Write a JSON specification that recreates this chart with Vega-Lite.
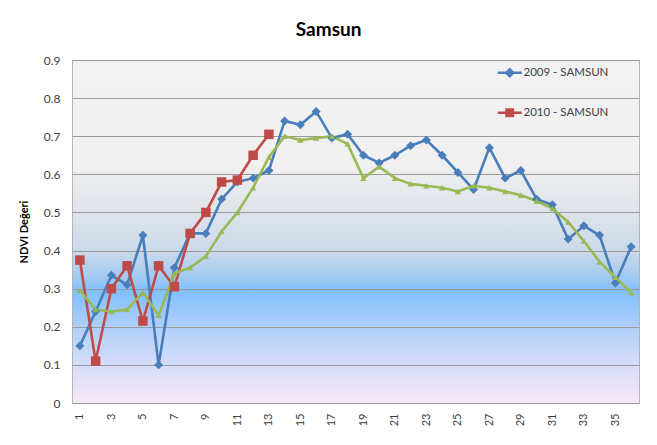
{
  "$schema": "https://vega.github.io/schema/vega-lite/v6.json",
  "width": 567,
  "height": 343,
  "autosize": {"type": "none"},
  "padding": {"left": 72, "top": 60, "right": 18, "bottom": 42},
  "background": "white",
  "title": {"text": "Samsun", "font": "Lato", "fontSize": 19, "fontWeight": "bold", "color": "#000000", "anchor": "middle", "frame": "bounds", "offset": 14},
  "data": {"values": [
    {"x":1,"s":"2009 - SAMSUN","v":0.15},{"x":2,"s":"2009 - SAMSUN","v":0.24},{"x":3,"s":"2009 - SAMSUN","v":0.335},{"x":4,"s":"2009 - SAMSUN","v":0.31},{"x":5,"s":"2009 - SAMSUN","v":0.44},{"x":6,"s":"2009 - SAMSUN","v":0.10},{"x":7,"s":"2009 - SAMSUN","v":0.355},{"x":8,"s":"2009 - SAMSUN","v":0.445},{"x":9,"s":"2009 - SAMSUN","v":0.445},{"x":10,"s":"2009 - SAMSUN","v":0.535},{"x":11,"s":"2009 - SAMSUN","v":0.58},{"x":12,"s":"2009 - SAMSUN","v":0.59},{"x":13,"s":"2009 - SAMSUN","v":0.61},{"x":14,"s":"2009 - SAMSUN","v":0.74},{"x":15,"s":"2009 - SAMSUN","v":0.73},{"x":16,"s":"2009 - SAMSUN","v":0.765},{"x":17,"s":"2009 - SAMSUN","v":0.695},{"x":18,"s":"2009 - SAMSUN","v":0.705},{"x":19,"s":"2009 - SAMSUN","v":0.65},{"x":20,"s":"2009 - SAMSUN","v":0.63},{"x":21,"s":"2009 - SAMSUN","v":0.65},{"x":22,"s":"2009 - SAMSUN","v":0.675},{"x":23,"s":"2009 - SAMSUN","v":0.69},{"x":24,"s":"2009 - SAMSUN","v":0.65},{"x":25,"s":"2009 - SAMSUN","v":0.605},{"x":26,"s":"2009 - SAMSUN","v":0.56},{"x":27,"s":"2009 - SAMSUN","v":0.67},{"x":28,"s":"2009 - SAMSUN","v":0.59},{"x":29,"s":"2009 - SAMSUN","v":0.61},{"x":30,"s":"2009 - SAMSUN","v":0.535},{"x":31,"s":"2009 - SAMSUN","v":0.52},{"x":32,"s":"2009 - SAMSUN","v":0.43},{"x":33,"s":"2009 - SAMSUN","v":0.465},{"x":34,"s":"2009 - SAMSUN","v":0.44},{"x":35,"s":"2009 - SAMSUN","v":0.315},{"x":36,"s":"2009 - SAMSUN","v":0.41},
    {"x":1,"s":"2010 - SAMSUN","v":0.375},{"x":2,"s":"2010 - SAMSUN","v":0.11},{"x":3,"s":"2010 - SAMSUN","v":0.30},{"x":4,"s":"2010 - SAMSUN","v":0.36},{"x":5,"s":"2010 - SAMSUN","v":0.215},{"x":6,"s":"2010 - SAMSUN","v":0.36},{"x":7,"s":"2010 - SAMSUN","v":0.305},{"x":8,"s":"2010 - SAMSUN","v":0.445},{"x":9,"s":"2010 - SAMSUN","v":0.50},{"x":10,"s":"2010 - SAMSUN","v":0.58},{"x":11,"s":"2010 - SAMSUN","v":0.585},{"x":12,"s":"2010 - SAMSUN","v":0.65},{"x":13,"s":"2010 - SAMSUN","v":0.705},
    {"x":1,"s":"Ortalama","v":0.295},{"x":2,"s":"Ortalama","v":0.245},{"x":3,"s":"Ortalama","v":0.24},{"x":4,"s":"Ortalama","v":0.245},{"x":5,"s":"Ortalama","v":0.29},{"x":6,"s":"Ortalama","v":0.23},{"x":7,"s":"Ortalama","v":0.34},{"x":8,"s":"Ortalama","v":0.355},{"x":9,"s":"Ortalama","v":0.385},{"x":10,"s":"Ortalama","v":0.45},{"x":11,"s":"Ortalama","v":0.50},{"x":12,"s":"Ortalama","v":0.565},{"x":13,"s":"Ortalama","v":0.645},{"x":14,"s":"Ortalama","v":0.70},{"x":15,"s":"Ortalama","v":0.69},{"x":16,"s":"Ortalama","v":0.695},{"x":17,"s":"Ortalama","v":0.70},{"x":18,"s":"Ortalama","v":0.68},{"x":19,"s":"Ortalama","v":0.59},{"x":20,"s":"Ortalama","v":0.62},{"x":21,"s":"Ortalama","v":0.59},{"x":22,"s":"Ortalama","v":0.575},{"x":23,"s":"Ortalama","v":0.57},{"x":24,"s":"Ortalama","v":0.565},{"x":25,"s":"Ortalama","v":0.555},{"x":26,"s":"Ortalama","v":0.57},{"x":27,"s":"Ortalama","v":0.565},{"x":28,"s":"Ortalama","v":0.555},{"x":29,"s":"Ortalama","v":0.545},{"x":30,"s":"Ortalama","v":0.53},{"x":31,"s":"Ortalama","v":0.51},{"x":32,"s":"Ortalama","v":0.475},{"x":33,"s":"Ortalama","v":0.425},{"x":34,"s":"Ortalama","v":0.37},{"x":35,"s":"Ortalama","v":0.33},{"x":36,"s":"Ortalama","v":0.29}
  ]},
  "encoding": {
    "x": {"field": "x", "type": "quantitative", "scale": {"domain": [0.5, 36.5], "nice": false, "zero": false},
      "axis": {"title": null, "values": [1,3,5,7,9,11,13,15,17,19,21,23,25,27,29,31,33,35], "labelAngle": -90, "labelAlign": "right", "labelBaseline": "middle", "grid": false, "ticks": false, "domain": false, "labelPadding": 10, "labelFont": "Lato", "labelFontSize": 11, "labelColor": "#404040"}},
    "y": {"field": "v", "type": "quantitative", "scale": {"domain": [0, 0.9], "nice": false},
      "axis": {"title": "NDVI Değeri", "titleFont": "Lato", "titleFontSize": 11, "titleFontWeight": "bold", "titleColor": "#000000", "titlePadding": 14, "values": [0,0.1,0.2,0.3,0.4,0.5,0.6,0.7,0.8,0.9], "format": ".1~f", "grid": true, "gridColor": "#9a9a9a", "gridWidth": 1, "ticks": false, "domain": false, "labelPadding": 12, "labelFont": "Lato", "labelFontSize": 12, "labelColor": "#404040"}},
    "color": {"field": "s", "type": "nominal",
      "scale": {"domain": ["2009 - SAMSUN", "2010 - SAMSUN", "Ortalama"], "range": ["#4a7ebb", "#be4b48", "#98b954"]},
      "legend": {"values": ["2009 - SAMSUN", "2010 - SAMSUN"], "title": null, "orient": "none", "legendX": 432, "legendY": 7, "labelFont": "Lato", "labelFontSize": 11.5, "labelColor": "#404040", "rowPadding": 22, "symbolSize": 64, "labelOffset": 8,
        "encode": {"symbols": {"update": {
          "shape": {"signal": "datum.value === '2009 - SAMSUN' ? 'M-3,0H3M0,-0.85L0.85,0L0,0.85L-0.85,0Z' : 'M-3,0H3M-0.8,-0.8H0.8V0.8H-0.8Z'"},
          "fill": {"signal": "datum.value === '2009 - SAMSUN' ? '#4a7ebb' : '#be4b48'"},
          "stroke": {"signal": "datum.value === '2009 - SAMSUN' ? '#4a7ebb' : '#be4b48'"},
          "strokeWidth": {"value": 2.5},
          "opacity": {"value": 1}
        }}}}
    }
  },
  "layer": [
    {"mark": {"type": "line", "strokeWidth": 2.6}, "encoding": {"detail": {"field": "s"}}},
    {"transform": [{"filter": "datum.s === '2009 - SAMSUN'"}], "mark": {"type": "point", "shape": "diamond", "filled": true, "opacity": 1, "size": 80}},
    {"transform": [{"filter": "datum.s === '2010 - SAMSUN'"}], "mark": {"type": "point", "shape": "square", "filled": true, "opacity": 1, "size": 90}},
    {"transform": [{"filter": "datum.s === 'Ortalama'"}], "mark": {"type": "point", "shape": "triangle-up", "filled": true, "opacity": 1, "size": 40}}
  ],
  "config": {
    "view": {"stroke": "#b4b4b4", "strokeWidth": 1,
      "fill": {"gradient": "linear", "x1": 0, "y1": 0, "x2": 0, "y2": 1,
        "stops": [
          {"offset": 0, "color": "#f2f2f2"},
          {"offset": 0.3, "color": "#f0f0f0"},
          {"offset": 0.45, "color": "#dde3ea"},
          {"offset": 0.56, "color": "#c9d9ea"},
          {"offset": 0.64, "color": "#9cc8f2"},
          {"offset": 0.67, "color": "#80bfff"},
          {"offset": 0.78, "color": "#b0d0fa"},
          {"offset": 0.88, "color": "#d4dcf8"},
          {"offset": 1, "color": "#f8e8f8"}
        ]}}
  }
}
